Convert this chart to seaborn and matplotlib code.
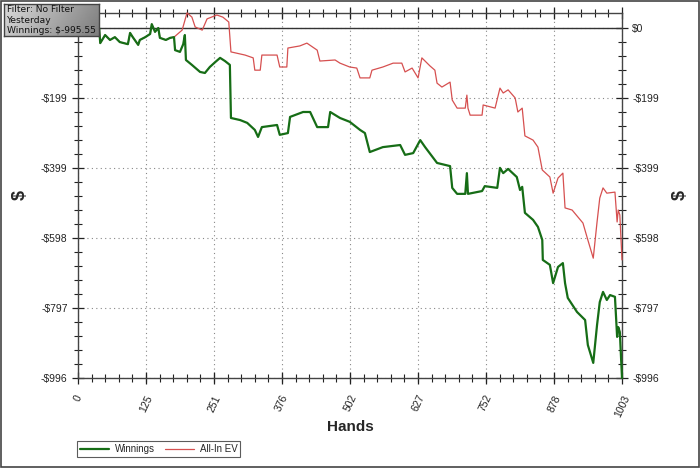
import matplotlib
matplotlib.use('Agg')
import matplotlib.pyplot as plt
import numpy as np
import pandas as pd
import seaborn as sns
from matplotlib.ticker import FixedLocator
from matplotlib.patches import Rectangle

# hands / dollars
win_hands = [0, 39, 41, 50, 59, 68, 77, 92, 96, 101, 111, 114, 124, 133, 136, 142, 148, 151,
             162, 170, 177, 179, 188, 194, 197, 199, 210, 225, 234, 243, 253, 262, 271, 280,
             282, 299, 312, 326, 332, 339, 367, 372, 387, 391, 415, 428, 441, 461, 465, 483,
             501, 520, 529, 538, 562, 594, 603, 618, 631, 640, 662, 686, 690, 699, 714, 717,
             719, 745, 750, 773, 778, 784, 793, 809, 815, 819, 824, 839, 848, 856, 857, 870,
             876, 885, 894, 898, 903, 920, 935, 940, 950, 957, 962, 968, 975, 981, 990, 994,
             996, 999, 1003]
win_vals = [0, 0, -43, -20, -34, -26, -40, -46, -14, -26, -48, -34, -26, -17, 11, -11, 0, -28,
            -34, -28, -26, -63, -68, -46, -20, -91, -105, -125, -128, -111, -97, -85, -94, -105,
            -256, -262, -270, -290, -310, -282, -276, -304, -299, -253, -239, -239, -282, -282,
            -239, -256, -267, -290, -299, -353, -339, -333, -361, -356, -319, -339, -384, -393,
            -455, -472, -472, -413, -472, -464, -450, -455, -398, -413, -401, -424, -461, -452,
            -526, -546, -566, -603, -660, -674, -726, -680, -669, -726, -768, -808, -831, -902,
            -953, -845, -780, -751, -774, -760, -765, -879, -851, -865, -996]

ev_hands = [0, 39, 41, 50, 59, 68, 77, 92, 96, 101, 111, 114, 124, 133, 136, 142, 148, 151,
            162, 170, 177, 192, 201, 210, 216, 229, 238, 256, 267, 278, 282, 308, 323, 326,
            336, 339, 367, 372, 385, 387, 409, 422, 441, 446, 474, 483, 501, 514, 520, 538,
            542, 562, 581, 597, 603, 616, 627, 634, 649, 658, 662, 671, 686, 690, 699, 714,
            717, 719, 723, 745, 747, 769, 778, 784, 793, 806, 811, 819, 824, 839, 848, 856,
            870, 876, 885, 894, 898, 911, 931, 940, 950, 957, 962, 968, 975, 990, 994, 996,
            999, 1003]
ev_vals = [0, 0, -43, -20, -34, -26, -40, -46, -14, -26, -48, -34, -26, -17, 11, -11, 0, -28,
           -34, -28, -26, -6, 43, 31, 3, -6, 26, 37, 31, 17, -68, -77, -85, -120, -120, -77,
           -77, -111, -111, -57, -51, -43, -63, -94, -91, -100, -111, -114, -142, -142, -120,
           -111, -100, -100, -125, -114, -142, -85, -108, -120, -157, -168, -154, -205, -228,
           -228, -191, -228, -248, -248, -219, -228, -171, -185, -176, -199, -239, -228, -307,
           -319, -339, -404, -424, -470, -427, -413, -512, -518, -555, -603, -655, -552, -484,
           -455, -470, -467, -552, -518, -532, -660]

x_ticks = [0, 125, 251, 376, 502, 627, 752, 878, 1003]
y_ticks = [0, -199.2, -398.4, -597.6, -796.8, -996]
y_labels = ['$0', '-$199', '-$399', '-$598', '-$797', '-$996']

sns.set_style('white')
plt.rcParams['font.family'] = ['Liberation Sans', 'DejaVu Sans']

fig = plt.figure(figsize=(7, 4.69), dpi=100)
ax = fig.add_axes([78 / 700, 91 / 469, 544 / 700, 365 / 469])

win = pd.DataFrame({'Hands': win_hands, 'Dollars': win_vals})
ev = pd.DataFrame({'Hands': ev_hands, 'Dollars': ev_vals})

sns.lineplot(data=ev, x='Hands', y='Dollars', ax=ax, color='#d65050', lw=0.9,
             estimator=None, sort=False, label='All-In EV', zorder=3, clip_on=False)
sns.lineplot(data=win, x='Hands', y='Dollars', ax=ax, color='#166d16', lw=1.6,
             estimator=None, sort=False, label='Winnings', zorder=4, clip_on=False)
ax.axhline(0, color='#333333', lw=1.0, zorder=2)

ax.set_xlim(0, 1003)
ax.set_ylim(-996, 42.7)
ax.xaxis.set_major_locator(FixedLocator(x_ticks))
ax.xaxis.set_minor_locator(FixedLocator(np.linspace(0, 1003, 41)))
ax.yaxis.set_major_locator(FixedLocator(y_ticks))
ax.yaxis.set_minor_locator(FixedLocator(np.linspace(-996, 0, 26)))
ax.set_xticklabels([str(t) for t in x_ticks], rotation=65, ha='center', va='top',
                   fontsize=7.5, color='#222222')
ax.set_yticklabels(y_labels, fontsize=7.5, color='#222222')
# the left "$0" sits under the filter box in the original
ax.yaxis.get_major_ticks()[0].label1.set_visible(False)

ax.tick_params(which='both', direction='inout', top=True, right=True, labelright=True,
               left=True, bottom=True, color='#222222')
ax.tick_params(which='major', length=8, width=0.9)
ax.tick_params(which='minor', length=6, width=0.8)
ax.tick_params(axis='x', which='major', pad=7)

ax.grid(True, which='major', linestyle=(0, (1, 3)), color='#888888', lw=0.8)
for s in ax.spines.values():
    s.set_color('#444444')
    s.set_linewidth(1.0)

ax.set_xlabel('Hands', fontsize=11, fontweight='bold', labelpad=1)
ax.set_ylabel('')
fig.text(20 / 700, 1 - 195 / 469, '$', fontsize=13, fontweight='bold', rotation=90,
         ha='center', va='center')
fig.text(680 / 700, 1 - 195 / 469, '$', fontsize=13, fontweight='bold', rotation=90,
         ha='center', va='center')

handles, labels = ax.get_legend_handles_labels()
ax.get_legend().remove()
leg = fig.legend(handles[::-1], labels[::-1], loc='lower left',
                 bbox_to_anchor=(77 / 700, 12 / 469), ncol=2, fontsize=7, frameon=True,
                 fancybox=False, edgecolor='#333333', borderpad=0.3, handlelength=3,
                 columnspacing=1.0, handletextpad=0.6, borderaxespad=0)
leg.get_frame().set_linewidth(0.8)

# filter info box with a grey gradient
bax = fig.add_axes([4 / 700, 1 - 36 / 469, 95 / 700, 32 / 469], zorder=10)
grad = np.linspace(0.85, 0.55, 100)[None, :] * np.ones((10, 1))
grad = grad - np.linspace(0, 0.06, 10)[:, None]
bax.imshow(grad, cmap='gray', vmin=0, vmax=1, aspect='auto', extent=(0, 1, 0, 1))
bax.set_xticks([])
bax.set_yticks([])
for s in bax.spines.values():
    s.set_color('#444444')
    s.set_linewidth(1.0)
bax.text(0.03, 0.96, 'Filter: No Filter\nYesterday\nWinnings: $-995.55', fontsize=6.6,
         va='top', ha='left', family='DejaVu Sans', color='#111111', linespacing=1.2,
         transform=bax.transAxes)

# outer frame
fig.patches.append(Rectangle((0.001, 0.005), 0.997, 0.993, transform=fig.transFigure,
                             fill=False, edgecolor='#444444', lw=1.2))

fig.savefig('out.png', dpi=100)
